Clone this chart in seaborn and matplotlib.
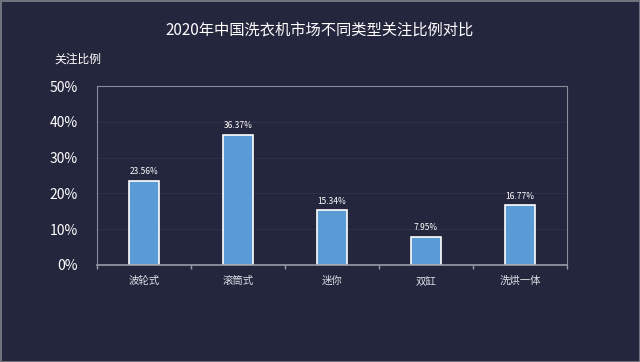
import matplotlib
matplotlib.use("Agg")
import matplotlib.pyplot as plt
import seaborn as sns
import pandas as pd
from matplotlib.ticker import FuncFormatter, FixedLocator

categories = ["波轮式", "滚筒式", "迷你", "双缸", "洗烘一体"]
values = [23.56, 36.37, 15.34, 7.95, 16.77]
value_labels = ["23.56%", "36.37%", "15.34%", "7.95%", "16.77%"]
yticks = [0, 10, 20, 30, 40, 50]

sns.set_theme(style="dark")
plt.rcParams['font.family'] = ['Noto Sans CJK SC', 'DejaVu Sans']

bg = "#24263d"
fig = plt.figure(figsize=(6.4, 3.62), dpi=100, facecolor=bg,
                 edgecolor="#70727e", linewidth=1.0)
ax = fig.add_axes([97/640, 1-265/362, 470/640, 179/362])
ax.set_facecolor(bg)

df = pd.DataFrame({"cat": categories, "val": values})
sns.barplot(data=df, x="cat", y="val", ax=ax, color="#5b9bd5",
            edgecolor="white", linewidth=1.2, width=0.32, saturation=1)

ax.set_ylim(0, 50)
ax.set_xlim(-0.5, 4.5)
ax.yaxis.set_major_locator(FixedLocator(yticks))
ax.yaxis.set_major_formatter(FuncFormatter(lambda v, p: f"{int(v)}%"))
ax.grid(axis="y", color="#2e3049", linewidth=0.8)
ax.grid(axis="x", visible=False)

for s in ["top", "right", "left"]:
    ax.spines[s].set_color("#8a8c9a")
    ax.spines[s].set_linewidth(0.8)
ax.spines["bottom"].set_color("#9a9caa")
ax.spines["bottom"].set_linewidth(1.2)

ax.tick_params(axis="y", colors="white", labelsize=10, length=0, pad=14)
ax.tick_params(axis="x", colors="white", labelsize=7.5, length=0, pad=8)
ax.set_xticks(range(len(categories)))
ax.set_xticklabels(categories, color="#e0e0e8")
ax.set_xticks([i - 0.5 for i in range(len(categories) + 1)], minor=True)
ax.tick_params(axis="x", which="minor", length=3, color="#9a9caa", direction="out", bottom=True)
ax.set_xlabel("")
ax.set_ylabel("")

for i, (v, lab) in enumerate(zip(values, value_labels)):
    ax.text(i, v + 1.2, lab, ha="center", va="bottom", fontsize=6, color="white")

fig.text(0.5, 1-30/362, "2020年中国洗衣机市场不同类型关注比例对比", ha="center", va="center",
         fontsize=11, color="white")
fig.text(54/640, 1-59/362, "关注比例", ha="left", va="center", fontsize=8.5, color="white")

fig.savefig("out.png", dpi=100, facecolor=bg, edgecolor=fig.get_edgecolor())
